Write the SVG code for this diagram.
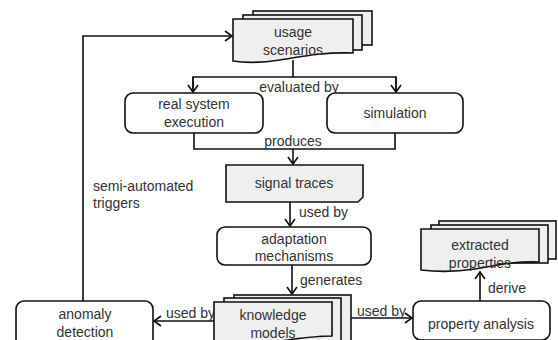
<svg xmlns="http://www.w3.org/2000/svg" width="558" height="340" viewBox="0 0 558 340">
<style>
.box{fill:#fff;stroke:#111;stroke-width:1.6}
.doc{fill:#efefef;stroke:#111;stroke-width:1.6}
.ln{fill:none;stroke:#111;stroke-width:1.6}
text{font-family:"Liberation Sans",Arial,sans-serif;font-size:14px;fill:#333;text-anchor:middle}
.lbl{text-anchor:start}
</style>
<defs>
<marker id="ah" markerWidth="12" markerHeight="12" refX="10" refY="6" orient="auto" markerUnits="userSpaceOnUse">
<path d="M3,1 L10,6 L3,11" fill="none" stroke="#111" stroke-width="1.6"/>
</marker>
</defs>
<g id="connectors">
<path class="ln" d="M83,301 V36 H232" marker-end="url(#ah)"/>
<path class="ln" d="M293,60 V77"/>
<path class="ln" d="M193,92 V77 H396 V92" />
<path class="ln" d="M193,77 V92" marker-end="url(#ah)"/>
<path class="ln" d="M396,77 V92" marker-end="url(#ah)"/>
<path class="ln" d="M194,133 V149 H395 V133"/>
<path class="ln" d="M293,149 V164" marker-end="url(#ah)"/>
<path class="ln" d="M290,202 V226" marker-end="url(#ah)"/>
<path class="ln" d="M292,265 V294" marker-end="url(#ah)"/>
<path class="ln" d="M214,321 H154" marker-end="url(#ah)"/>
<path class="ln" d="M351,318 H412" marker-end="url(#ah)"/>
<path class="ln" d="M480,301 V272" marker-end="url(#ah)"/>
<text x="299" y="92">evaluated by</text>
<text x="293" y="146">produces</text>
<text class="lbl" x="299" y="217">used by</text>
<text class="lbl" x="300" y="285">generates</text>
<text class="lbl" x="166" y="318">used by</text>
<text class="lbl" x="357" y="316">used by</text>
<text class="lbl" x="488" y="293">derive</text>
<text class="lbl" x="93" y="191">semi-automated</text>
<text class="lbl" x="93" y="208">triggers</text>
</g>
<g id="usage-scenarios">
<rect class="doc" x="253" y="11" width="119" height="34"/>
<rect class="doc" x="243" y="15" width="119" height="35"/>
<path class="doc" d="M233,19 H353 V53 C320,52 300,57 280,60 C260,63 245,63 233,61 Z"/>
<text x="293" y="37">usage</text>
<text x="293" y="55">scenarios</text>
</g>
<g id="real-system-execution">
<rect class="box" x="125" y="93" width="138" height="40" rx="8"/>
<text x="194" y="109">real system</text>
<text x="194" y="127">execution</text>
</g>
<g id="simulation">
<rect class="box" x="327" y="93" width="136" height="40" rx="8"/>
<text x="395" y="118">simulation</text>
</g>
<g id="signal-traces">
<path class="doc" d="M226,165 H363 V197 L358,202 H226 Z"/>
<text x="294" y="188">signal traces</text>
</g>
<g id="adaptation-mechanisms">
<rect class="box" x="217" y="227" width="154" height="38" rx="8"/>
<text x="294" y="244">adaptation</text>
<text x="294" y="261">mechanisms</text>
</g>
<g id="knowledge-models">
<rect class="doc" x="234" y="295" width="117" height="50"/>
<rect class="doc" x="224" y="298" width="117" height="50"/>
<path class="doc" d="M214,302 H332 V336 C310,336 295,339 275,342 L214,345 Z"/>
<text x="273" y="320">knowledge</text>
<text x="273" y="338">models</text>
</g>
<g id="anomaly-detection">
<rect class="box" x="16" y="301" width="137" height="48" rx="8"/>
<text x="85" y="319">anomaly</text>
<text x="85" y="337">detection</text>
</g>
<g id="property-analysis">
<rect class="box" x="413" y="301" width="137" height="39" rx="8"/>
<text x="481" y="329">property analysis</text>
</g>
<g id="extracted-properties">
<rect class="doc" x="439" y="221" width="117" height="38"/>
<rect class="doc" x="431" y="225" width="117" height="38"/>
<path class="doc" d="M421,229 H539 V262 C510,261 495,266 475,269 C455,272 438,272 421,270 Z"/>
<text x="480" y="250">extracted</text>
<text x="480" y="268">properties</text>
</g>
</svg>
